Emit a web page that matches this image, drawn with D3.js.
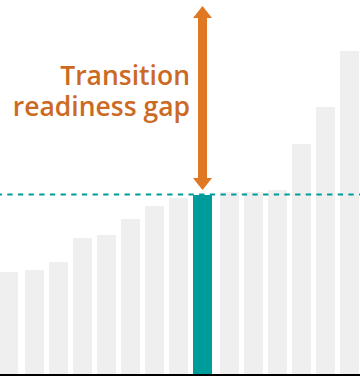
<!DOCTYPE html>
<html>
<head>
<meta charset="utf-8">
<script src="https://cdn.jsdelivr.net/npm/d3@7"></script>
<style>
  html, body { margin: 0; padding: 0; background: #fff; }
  svg { display: block; }
</style>
</head>
<body>
<div id="chart"></div>
<script>
// ---- data ----
const categories = ["A","B","C","D","E","F","G","H","I","J","K","L","M","N","O"];
const values = [102, 104, 112, 136, 139, 155, 168, 176, 179, 182, 182, 184, 230, 267, 323];
const highlightIndex = 8;
const labelLines = ["Transition", "readiness gap"];

// ---- layout ----
const W = 360, H = 376;
const baseline = 374;
const yMax = 374;

const svg = d3.select("#chart").append("svg").attr("width", W).attr("height", H);

const x = d3.scaleBand().domain(categories).range([1, 356]).paddingInner(5 / 24).paddingOuter(0);
const y = d3.scaleLinear().domain([0, yMax]).range([baseline, 0]);
const extraGap = 3, firstShift = -2;
const xPos = (d, i) => x(d) + (i > highlightIndex ? extraGap : 0) + (i === 0 ? firstShift : 0);

const gray = "#efefef", teal = "#009c9c", orange = "#e07722", textOrange = "#cc6a24";

svg.append("g").selectAll("rect")
  .data(categories)
  .join("rect")
  .attr("x", (d, i) => xPos(d, i))
  .attr("y", (d, i) => y(values[i]))
  .attr("width", x.bandwidth())
  .attr("height", (d, i) => baseline - y(values[i]))
  .attr("fill", (d, i) => i === highlightIndex ? teal : gray);

// dashed reference line at highlighted value
const refY = y(values[highlightIndex]) - 0.5;
svg.append("line")
  .attr("x1", 0).attr("x2", W)
  .attr("y1", refY).attr("y2", refY)
  .attr("stroke", teal).attr("stroke-width", 2)
  .attr("stroke-dasharray", "5.33,5.33")
  .attr("stroke-dashoffset", 3.4);

// baseline axis
svg.append("g")
  .attr("transform", `translate(0,${baseline + 1})`)
  .call(d3.axisBottom(x).tickSize(0).tickFormat(""))
  .call(g => g.select(".domain").attr("d", `M0,0H${W}`).attr("stroke", "#000").attr("stroke-width", 2));

// double arrow
const cx = xPos(categories[highlightIndex], highlightIndex) + x.bandwidth() / 2;
const yTop = y(yMax) + 6;
const yBot = y(values[highlightIndex]) - 5;
const headL = 12, headW = 9.5, shaftW = 4.5;
const arrowPath = d3.path();
arrowPath.moveTo(cx, yTop);
arrowPath.lineTo(cx + headW, yTop + headL);
arrowPath.lineTo(cx + shaftW, yTop + headL);
arrowPath.lineTo(cx + shaftW, yBot - headL);
arrowPath.lineTo(cx + headW, yBot - headL);
arrowPath.lineTo(cx, yBot);
arrowPath.lineTo(cx - headW, yBot - headL);
arrowPath.lineTo(cx - shaftW, yBot - headL);
arrowPath.lineTo(cx - shaftW, yTop + headL);
arrowPath.lineTo(cx - headW, yTop + headL);
arrowPath.closePath();
svg.append("path").attr("d", arrowPath.toString()).attr("fill", orange);

// label (one text element per line)
svg.append("g").selectAll("text")
  .data(labelLines)
  .join("text")
  .attr("text-anchor", "end")
  .attr("font-family", "'Open Sans', 'Noto Sans', sans-serif")
  .attr("font-weight", 600)
  .attr("font-size", 26.5)
  .attr("fill", textOrange)
  .attr("x", cx - 12.5)
  .attr("y", (d, i) => 85 + i * 31)
  .text(d => d);
</script>
</body>
</html>
